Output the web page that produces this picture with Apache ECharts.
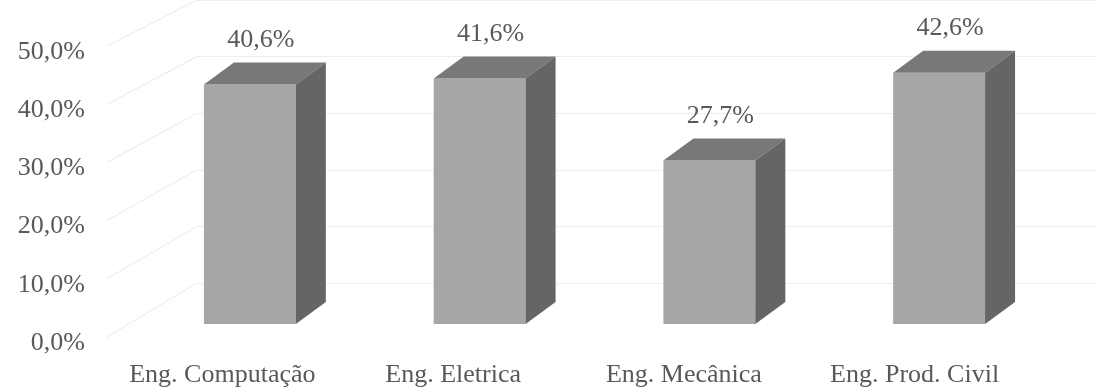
<!DOCTYPE html>
<html>
<head>
<meta charset="utf-8">
<script src="https://cdn.jsdelivr.net/npm/echarts@6/dist/echarts.min.js"></script>
<style>
  html, body { margin: 0; padding: 0; background: #ffffff; }
  #chart { width: 1096px; height: 392px; }
</style>
</head>
<body>
<div id="chart"></div>
<script>
// Share of students per course
const categories = ['Eng. Computação', 'Eng. Eletrica', 'Eng. Mecânica', 'Eng. Prod. Civil'];
const values = [40.6, 41.6, 27.7, 42.6];
const yTicks = [0, 10, 20, 30, 40, 50];

const fmt = v => v.toFixed(1).replace('.', ',') + '%';
const FONT = 'Liberation Serif';
const FONT_SIZE = 26;
const TEXT = '#595959';
const GRID_LINE = '#eeeeee';
// pseudo-3D box depth (pixels)
const DX = 30, DY = -22;
// front edge of the side wall sits slightly above its tick labels
const WALL_SHIFT = -6;

const chart = echarts.init(document.getElementById('chart'), null, { renderer: 'canvas' });

function renderBar(params, api) {
  const c = api.value(0);
  const v = api.value(1);
  const top = api.coord([c, v]);
  const base = api.coord([c, 0]);
  const w = api.size([1, 0])[0] * 0.4;
  const x0 = top[0] - w / 2, x1 = top[0] + w / 2;
  const yt = top[1], yb = base[1];
  return {
    type: 'group',
    children: [
      { type: 'rect', shape: { x: x0, y: yt, width: w, height: yb - yt },
        style: { fill: '#a6a6a6' } },
      { type: 'polygon', shape: { points: [[x0, yt], [x1, yt], [x1 + DX, yt + DY], [x0 + DX, yt + DY]] },
        style: { fill: '#787878' } },
      { type: 'polygon', shape: { points: [[x1, yt], [x1 + DX, yt + DY], [x1 + DX, yb + DY], [x1, yb]] },
        style: { fill: '#656565' } },
      { type: 'text', x: top[0] + 11, y: yt + DY - 22,
        style: { text: fmt(v), fill: TEXT, font: FONT_SIZE + 'px "' + FONT + '"', align: 'center', verticalAlign: 'middle' } }
    ]
  };
}

const option = {
  animation: false,
  backgroundColor: '#ffffff',
  grid: [
    { left: 107, right: 66, top: 52, bottom: 49 },   // front edge: tick and category labels
    { left: 135, right: 42, top: 29, bottom: 68 },   // bar front faces
    { left: 197, right: 0, top: -12, bottom: 109 }   // back wall
  ],
  xAxis: [
    { gridIndex: 0, type: 'category', data: categories,
      axisLine: { show: false }, axisTick: { show: false },
      axisLabel: { interval: 0, color: TEXT, fontFamily: FONT, fontSize: FONT_SIZE, margin: 19 } },
    { gridIndex: 1, type: 'category', data: categories, show: false },
    { gridIndex: 2, type: 'value', show: false }
  ],
  yAxis: [
    { gridIndex: 0, type: 'value', min: 0, max: 50, interval: 10,
      axisLine: { show: false }, axisTick: { show: false }, splitLine: { show: false },
      axisLabel: { color: TEXT, fontFamily: FONT, fontSize: FONT_SIZE, margin: 22, formatter: fmt } },
    { gridIndex: 1, type: 'value', min: 0, max: 50, show: false },
    { gridIndex: 2, type: 'value', min: 0, max: 50, interval: 10,
      axisLine: { show: false }, axisTick: { show: false }, axisLabel: { show: false },
      splitLine: { show: true, lineStyle: { color: GRID_LINE, width: 1.2 } } }
  ],
  series: [
    { type: 'custom', xAxisIndex: 1, yAxisIndex: 1,
      data: values.map((v, i) => [i, v]),
      renderItem: renderBar, z: 5 }
  ]
};
chart.setOption(option);

// side wall: lines joining each front tick to the matching back-wall line
const wallLines = yTicks.map(t => {
  const yf = chart.convertToPixel({ yAxisIndex: 0 }, t) + WALL_SHIFT;
  const yb = chart.convertToPixel({ yAxisIndex: 2 }, t);
  return {
    type: 'line', z: 1,
    shape: { x1: 107, y1: yf, x2: 197, y2: yb },
    style: { stroke: GRID_LINE, lineWidth: 1.2 }
  };
});
chart.setOption({ graphic: wallLines });
</script>
</body>
</html>
